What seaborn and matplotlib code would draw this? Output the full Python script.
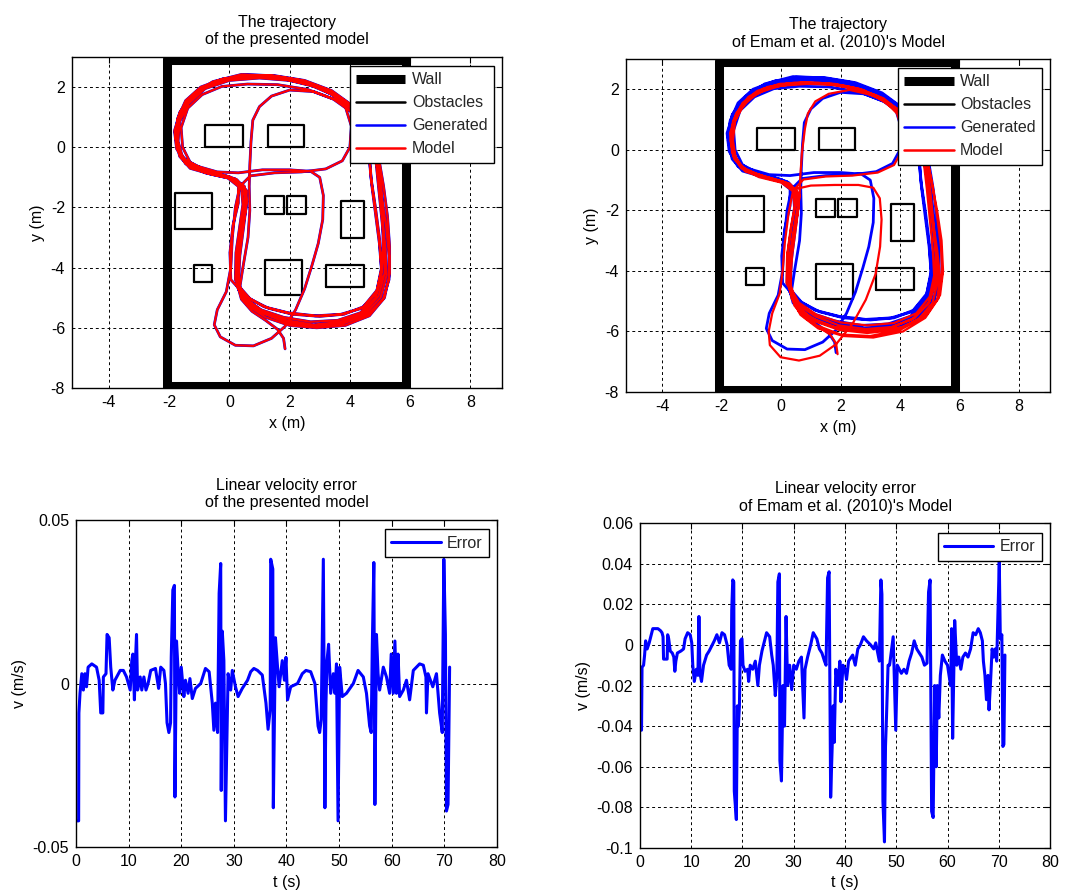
import matplotlib
matplotlib.use('Agg')
import numpy as np
import pandas as pd
import matplotlib.pyplot as plt
import seaborn as sns
from matplotlib.lines import Line2D

# ---- room layout (m) ----
wall_x = [-2.08, 5.86, 5.86, -2.08, -2.08]
wall_y = [2.9, 2.9, -7.93, -7.93, 2.9]
# obstacles as (x0, y0, x1, y1)
obstacles = [(-0.81, 0.0, 0.45, 0.73), (1.28, 0.0, 2.49, 0.73),
             (-1.81, -2.70, -0.58, -1.51), (1.19, -2.21, 1.82, -1.63),
             (1.92, -2.21, 2.54, -1.63), (3.70, -3.01, 4.46, -1.80),
             (-1.18, -4.47, -0.58, -3.90), (1.19, -4.92, 2.42, -3.76),
             (3.20, -4.64, 4.46, -3.90)]

# ---- generated trajectory (lap by lap) ----
gen_path = [
    # start
    (1.85, -6.70), (1.80, -6.35), (1.60, -6.05), (1.20, -5.75), (0.75, -5.45), (0.40, -5.05),
    # lap 1
    (0.25, -4.50), (0.28, -3.70), (0.40, -2.80), (0.52, -2.00), (0.50, -1.40), (0.20, -1.05), (-0.50, -0.85),
    (-1.20, -0.65), (-1.60, -0.30), (-1.75, 0.30), (-1.70, 0.90), (-1.40, 1.50), (-0.90, 1.95), (-0.10, 2.25),
    (0.80, 2.35), (1.80, 2.30), (2.70, 2.10), (3.50, 1.75), (4.20, 1.20), (4.65, 0.55), (4.85, -0.30),
    (4.95, -1.30), (5.05, -2.30), (5.15, -3.30), (5.15, -4.20), (4.95, -4.95), (4.45, -5.50), (3.70, -5.80),
    (2.80, -5.90), (1.90, -5.75), (1.10, -5.45), (0.55, -5.05),
    # lap 2
    (0.20, -4.40), (0.22, -3.50), (0.35, -2.60), (0.45, -1.90), (0.40, -1.35), (0.05, -1.00), (-0.70, -0.80),
    (-1.35, -0.55), (-1.70, -0.10), (-1.80, 0.50), (-1.65, 1.15), (-1.20, 1.75), (-0.55, 2.18), (0.40, 2.42),
    (1.40, 2.38), (2.40, 2.22), (3.30, 1.90), (4.05, 1.40), (4.45, 0.70), (4.62, -0.10), (4.70, -1.00),
    (4.85, -2.00), (4.98, -3.00), (5.05, -4.00), (4.90, -4.75), (4.45, -5.30), (3.80, -5.55), (3.00, -5.62),
    (2.10, -5.55), (1.30, -5.35), (0.70, -5.05), (0.35, -4.65),
    # lap 3 (up the middle)
    (0.45, -4.00), (0.62, -3.00), (0.68, -2.10), (0.66, -1.30), (0.68, -0.60), (0.72, 0.20), (0.78, 0.90),
    (1.00, 1.35), (1.40, 1.70), (2.00, 1.90), (2.80, 1.85), (3.60, 1.55), (4.30, 1.00), (4.70, 0.30),
    (4.90, -0.60), (5.05, -1.60), (5.20, -2.60), (5.30, -3.60), (5.30, -4.40), (5.10, -5.05), (4.60, -5.55),
    (3.80, -5.85), (2.90, -5.95), (2.00, -5.85), (1.20, -5.55), (0.60, -5.15),
    # lap 4 (inner loops)
    (0.30, -4.60), (0.35, -3.60), (0.48, -2.60), (0.58, -1.80), (0.50, -1.30), (0.10, -1.05), (-0.60, -0.90),
    (-1.30, -0.70), (-1.65, -0.30), (-1.78, 0.30), (-1.72, 0.95), (-1.45, 1.55), (-0.95, 2.00), (-0.20, 2.28),
    (0.70, 2.36), (1.70, 2.32), (2.60, 2.15), (3.30, 1.85), (3.85, 1.35), (4.05, 0.70), (4.00, 0.00),
    (3.75, -0.45), (3.20, -0.72), (2.40, -0.82), (1.50, -0.85), (0.70, -0.95), (0.35, -1.30), (0.20, -2.00),
    (0.10, -3.00), (0.05, -4.00), (-0.10, -4.80), (-0.40, -5.40), (-0.50, -5.90), (-0.30, -6.30),
    (0.20, -6.58), (0.80, -6.60), (1.40, -6.35), (1.85, -5.95), (2.20, -5.40), (2.50, -4.70), (2.75, -3.90),
    (2.95, -3.20), (3.10, -2.40), (3.12, -1.60), (3.00, -1.00), (2.70, -0.80), (2.00, -0.75), (1.10, -0.75),
    (0.30, -0.85), (-0.40, -0.82), (-1.10, -0.62), (-1.55, -0.35), (-1.70, 0.20), (-1.65, 0.85),
    (-1.35, 1.45), (-0.80, 1.95), (0.00, 2.22), (1.00, 2.30), (2.00, 2.22), (2.90, 2.00), (3.70, 1.60),
    (4.35, 1.05), (4.75, 0.40), (4.95, -0.40), (5.05, -1.40), (5.10, -2.40), (5.10, -3.40), (5.05, -4.30),
    (4.85, -5.00), (4.35, -5.50), (3.60, -5.75), (2.70, -5.80), (1.80, -5.65), (1.05, -5.40), (0.50, -5.00),
    # lap 5
    (0.22, -4.30), (0.28, -3.40), (0.42, -2.50), (0.55, -1.75), (0.45, -1.25), (0.00, -0.98), (-0.75, -0.78),
    (-1.30, -0.50), (-1.55, 0.00), (-1.60, 0.65), (-1.38, 1.30), (-0.90, 1.75), (-0.25, 2.02), (0.60, 2.10),
    (1.60, 2.08), (2.60, 1.92), (3.45, 1.60), (4.15, 1.10), (4.50, 0.50), (4.65, -0.30), (4.72, -1.20),
    (4.85, -2.20), (4.98, -3.20), (5.05, -4.10), (4.88, -4.85), (4.40, -5.35), (3.70, -5.55), (2.85, -5.60),
    (1.95, -5.50), (1.15, -5.30), (0.55, -4.95),
    # lap 6
    (0.05, -4.40), (0.02, -3.50), (0.12, -2.60), (0.30, -1.85), (0.30, -1.30), (-0.05, -1.02), (-0.80, -0.85),
    (-1.45, -0.55), (-1.75, -0.05), (-1.82, 0.55), (-1.62, 1.20), (-1.15, 1.80), (-0.40, 2.20), (0.50, 2.40),
    (1.50, 2.38), (2.50, 2.22), (3.40, 1.88), (4.20, 1.30), (4.70, 0.55), (4.95, -0.30), (5.12, -1.30),
    (5.25, -2.30), (5.32, -3.30), (5.32, -4.20), (5.15, -5.00), (4.65, -5.60), (3.85, -5.92), (2.90, -6.00),
    (2.00, -5.92), (1.20, -5.65), (0.60, -5.25), (0.30, -4.70),
    # lap 7
    (0.28, -3.80), (0.40, -2.90), (0.55, -2.05), (0.58, -1.45), (0.25, -1.08), (-0.45, -0.88), (-1.15, -0.68),
    (-1.58, -0.35), (-1.76, 0.25), (-1.72, 0.85), (-1.45, 1.45), (-0.95, 1.92), (-0.15, 2.25), (0.75, 2.34),
    (1.75, 2.28), (2.65, 2.08), (3.50, 1.72), (4.25, 1.15), (4.68, 0.50), (4.88, -0.35), (4.98, -1.35),
    (5.08, -2.35), (5.18, -3.35), (5.22, -4.25), (5.02, -5.00), (4.50, -5.55), (3.70, -5.85), (2.75, -5.92),
    (1.85, -5.78), (1.05, -5.48), (0.50, -5.10), (0.25, -4.60),
]

# presented model follows the generated path almost exactly
model_path_presented = gen_path

# Emam et al. (2010) model trajectory
model_path_emam = [
    (1.90, -6.75), (1.85, -6.40), (1.65, -6.10), (1.25, -5.85), (0.80, -5.55), (0.45, -5.15),
    (0.30, -4.50), (0.32, -3.60), (0.45, -2.70), (0.58, -1.90), (0.55, -1.40), (0.20, -1.10), (-0.50, -0.90),
    (-1.15, -0.70), (-1.52, -0.35), (-1.62, 0.30), (-1.55, 0.95), (-1.25, 1.50), (-0.75, 1.90), (0.00, 2.12),
    (0.90, 2.18), (1.90, 2.15), (2.80, 1.95), (3.60, 1.55), (4.25, 1.00), (4.65, 0.35), (4.88, -0.50),
    (5.00, -1.50), (5.12, -2.50), (5.22, -3.50), (5.20, -4.40), (4.95, -5.10), (4.40, -5.60), (3.60, -5.90),
    (2.70, -5.98), (1.80, -5.85), (1.00, -5.55), (0.50, -5.10),
    (0.20, -4.30), (0.22, -3.40), (0.35, -2.50), (0.48, -1.80), (0.45, -1.30), (0.05, -1.05), (-0.70, -0.88),
    (-1.30, -0.62), (-1.60, -0.15), (-1.68, 0.50), (-1.50, 1.15), (-1.05, 1.72), (-0.40, 2.05), (0.50, 2.20),
    (1.50, 2.18), (2.50, 2.02), (3.35, 1.68), (4.05, 1.15), (4.50, 0.50), (4.80, -0.30), (4.95, -1.30),
    (5.10, -2.30), (5.25, -3.30), (5.35, -4.20), (5.25, -4.95), (4.75, -5.55), (4.00, -5.95), (3.00, -6.15),
    (2.00, -6.10), (1.20, -5.80), (0.60, -5.35),
    (0.30, -4.40), (0.38, -3.40), (0.52, -2.40), (0.62, -1.50), (0.65, -0.80), (0.70, -0.10), (0.80, 0.70),
    (0.90, 1.20), (1.15, 1.60), (1.60, 1.85), (2.30, 1.98), (3.10, 1.80), (3.90, 1.35), (4.50, 0.75),
    (4.85, 0.00), (5.05, -1.00), (5.25, -2.00), (5.40, -3.00), (5.45, -4.00), (5.35, -4.80), (4.90, -5.45),
    (4.10, -5.85), (3.10, -6.00), (2.10, -5.95), (1.30, -5.70), (0.65, -5.30),
    (0.28, -4.60), (0.30, -3.60), (0.45, -2.60), (0.60, -1.85), (0.52, -1.35), (0.15, -1.10), (-0.55, -0.92),
    (-1.20, -0.72), (-1.58, -0.30), (-1.70, 0.30), (-1.62, 0.95), (-1.30, 1.55), (-0.80, 1.95), (-0.05, 2.18),
    (0.85, 2.22), (1.80, 2.18), (2.70, 2.00), (3.40, 1.70), (3.90, 1.20), (4.10, 0.55), (4.05, -0.05),
    (3.80, -0.50), (3.25, -0.75), (2.40, -0.85), (1.50, -0.88), (0.75, -0.98), (0.40, -1.35), (0.25, -2.10),
    (0.12, -3.10), (0.05, -4.00), (-0.05, -4.75), (-0.30, -5.40), (-0.42, -6.00), (-0.38, -6.45),
    (-0.02, -6.85), (0.60, -6.96), (1.30, -6.80), (1.85, -6.42), (2.40, -5.75), (2.85, -4.95), (3.18, -4.10),
    (3.33, -3.20), (3.38, -2.30), (3.32, -1.60), (3.10, -1.25), (2.60, -1.16), (1.80, -1.16), (1.00, -1.18),
    (0.45, -1.30), (0.00, -1.05), (-0.70, -0.85), (-1.30, -0.58), (-1.62, -0.10), (-1.68, 0.60),
    (-1.45, 1.25), (-0.95, 1.80), (-0.20, 2.12), (0.70, 2.22), (1.70, 2.18), (2.60, 2.02), (3.45, 1.70),
    (4.15, 1.15), (4.60, 0.45), (4.88, -0.35), (5.02, -1.35), (5.12, -2.35), (5.20, -3.35), (5.20, -4.25),
    (5.00, -5.00), (4.50, -5.55), (3.75, -5.85), (2.85, -5.92), (1.95, -5.80), (1.15, -5.50), (0.55, -5.10),
    (0.18, -4.40), (0.20, -3.50), (0.32, -2.60), (0.45, -1.90), (0.42, -1.38), (0.00, -1.08), (-0.75, -0.90),
    (-1.35, -0.60), (-1.65, -0.10), (-1.72, 0.55), (-1.52, 1.20), (-1.10, 1.75), (-0.45, 2.08), (0.45, 2.22),
    (1.45, 2.20), (2.45, 2.05), (3.30, 1.72), (4.00, 1.20), (4.50, 0.55), (4.78, -0.25), (4.90, -1.25),
    (5.00, -2.25), (5.10, -3.25), (5.15, -4.15), (5.00, -4.85), (4.55, -5.40), (3.80, -5.72), (2.90, -5.80),
    (2.00, -5.70), (1.20, -5.45), (0.60, -5.05),
    (0.25, -4.45), (0.28, -3.55), (0.42, -2.65), (0.55, -1.90), (0.50, -1.35), (0.10, -1.06), (-0.62, -0.86),
    (-1.25, -0.64), (-1.60, -0.22), (-1.68, 0.42), (-1.55, 1.05), (-1.18, 1.62), (-0.60, 2.02), (0.25, 2.20),
    (1.25, 2.22), (2.25, 2.10), (3.20, 1.80), (4.00, 1.30), (4.55, 0.60), (4.90, -0.20), (5.10, -1.20),
    (5.25, -2.20), (5.38, -3.20), (5.42, -4.10), (5.30, -4.90), (4.85, -5.55), (4.10, -6.00), (3.10, -6.20),
    (2.10, -6.15), (1.25, -5.90), (0.65, -5.45), (0.35, -4.90),
    (0.30, -4.00), (0.40, -3.00), (0.55, -2.10), (0.62, -1.50), (0.30, -1.12), (-0.40, -0.92), (-1.10, -0.72),
    (-1.50, -0.38), (-1.65, 0.20), (-1.60, 0.85), (-1.35, 1.42), (-0.88, 1.88), (-0.15, 2.14), (0.75, 2.20),
    (1.75, 2.16), (2.65, 1.98), (3.50, 1.62), (4.20, 1.08), (4.62, 0.40), (4.85, -0.40), (4.98, -1.40),
    (5.10, -2.40), (5.22, -3.40), (5.28, -4.30), (5.10, -5.05), (4.60, -5.62), (3.85, -5.95), (2.90, -6.05),
    (1.95, -5.95), (1.10, -5.65), (0.55, -5.25), (0.30, -4.70),
]

# ---- linear velocity error, presented model ----
t_err_presented = [0.0, 0.5, 0.55, 0.76, 1.1, 1.4, 1.7, 2.0, 2.3, 3.0, 3.9, 4.4, 4.7, 5.1, 5.2, 5.7, 5.9, 6.3,
                   6.6, 7.0, 7.4, 8.4, 9.0, 9.6, 10.3, 10.6, 10.8, 11.1, 11.3, 11.5, 11.7, 12.2, 12.5, 12.9,
                   13.3, 13.7, 14.2, 15.1, 15.7, 16.1, 16.7, 17.0, 17.3, 17.65, 17.97, 18.1, 18.4, 18.7,
                   18.8, 19.1, 19.4, 19.7, 20.0, 20.5, 20.8, 21.3, 21.65, 22.1, 22.7, 23.7, 24.6, 25.3,
                   25.9, 26.2, 26.5, 26.9, 27.2, 27.5, 27.6, 27.8, 28.1, 28.4, 28.9, 29.4, 29.7, 30.3,
                   30.8, 31.6, 32.6, 33.2, 33.8, 34.5, 35.4, 36.1, 36.5, 36.9, 37.0, 37.4, 37.5, 37.9,
                   38.3, 38.6, 39.2, 39.6, 39.9, 40.2, 40.8, 42.1, 43.0, 43.7, 44.6, 45.4, 46.0, 46.3,
                   46.6, 47.0, 47.3, 47.5, 47.7, 48.0, 48.4, 48.9, 49.2, 49.5, 49.8, 50.1, 50.6, 51.4,
                   52.7, 53.6, 54.6, 55.2, 55.8, 56.1, 56.3, 56.6, 56.8, 57.1, 57.4, 57.7, 58.4, 59.0,
                   59.6, 59.9, 60.3, 60.6, 60.9, 61.2, 61.5, 62.2, 62.8, 63.4, 64.1, 65.3, 66.0, 66.5,
                   66.6, 66.9, 67.8, 68.5, 69.1, 69.6, 69.9, 70.2, 70.4, 70.7, 71.0]
v_err_presented = [-0.042, -0.042, -0.009, -0.003, 0.003, -0.002, 0.003, -0.001, 0.005, 0.006, 0.005, 0.001,
                   -0.009, -0.009, 0.002, 0.003, 0.015, 0.014, 0.005, -0.002, 0.001, 0.004, 0.004, 0.002,
                   -0.002, 0.007, 0.009, -0.005, 0.007, 0.015, -0.002, 0.002, -0.002, 0.002, -0.002, 0.000,
                   0.004, 0.0046, -0.0015, 0.005, 0.004, 0.000, -0.012, -0.015, -0.012, 0.008, 0.0286,
                   0.030, -0.0347, 0.013, 0.004, -0.003, 0.005, -0.004, 0.001, -0.003, 0.0015, -0.0046,
                   -0.0015, 0.000, 0.0046, 0.0036, -0.006, -0.0143, -0.006, -0.015, 0.0276, 0.0367,
                   -0.0327, 0.016, 0.007, -0.042, 0.003, -0.002, 0.004, -0.001, -0.004, -0.0015, 0.001,
                   0.0036, 0.0046, 0.004, 0.0026, -0.006, -0.014, -0.008, 0.038, 0.035, -0.038, 0.014,
                   0.005, -0.001, 0.007, 0.001, 0.008, -0.005, -0.001, 0.000, 0.003, 0.004, 0.0036, 0.000,
                   -0.013, -0.015, -0.011, 0.038, -0.038, -0.006, 0.007, 0.012, -0.003, 0.003, -0.003,
                   0.006, -0.042, 0.005, -0.004, -0.003, 0.000, 0.004, 0.002, -0.003, -0.013, -0.015,
                   0.011, 0.037, -0.037, 0.015, 0.003, -0.002, 0.005, 0.002, -0.003, 0.009, -0.003, 0.013,
                   -0.003, 0.009, -0.004, -0.002, 0.001, -0.005, 0.004, 0.006, 0.0056, 0.002, -0.009,
                   0.003, -0.001, 0.003, -0.009, -0.015, 0.038, 0.015, -0.039, -0.037, 0.005]

# ---- linear velocity error, Emam et al. (2010) ----
t_err_emam = [0.0, 0.3, 0.4, 0.7, 0.9, 1.1, 1.4, 1.8, 2.2, 2.5, 3.5, 4.0, 4.3, 4.5, 4.6, 5.3, 5.4, 5.6, 5.9,
              6.3, 6.6, 6.8, 7.0, 7.3, 8.0, 8.5, 8.8, 9.3, 9.8, 10.1, 10.3, 10.6, 11.0, 11.3, 11.5, 11.7,
              12.0, 12.4, 13.0, 13.5, 14.5, 15.0, 15.5, 16.0, 16.5, 17.0, 17.4, 17.8, 17.9, 18.1, 18.3,
              18.4, 18.8, 19.0, 19.2, 19.4, 19.6, 19.9, 20.1, 20.5, 21.0, 21.2, 21.5, 22.0, 22.5, 23.0,
              23.3, 23.8, 24.3, 24.7, 25.3, 25.7, 26.0, 26.4, 26.7, 26.9, 27.2, 27.3, 27.6, 27.9, 28.2,
              28.5, 28.8, 29.2, 29.6, 30.0, 30.5, 31.0, 31.5, 32.0, 32.2, 32.7, 33.3, 33.8, 34.5, 35.0,
              35.5, 36.0, 36.3, 36.6, 36.9, 37.2, 37.5, 37.7, 37.9, 38.2, 38.6, 39.0, 39.2, 39.6, 40.0,
              40.3, 40.7, 41.5, 42.0, 42.5, 43.0, 43.6, 44.2, 45.0, 45.6, 46.0, 46.4, 46.7, 47.0, 47.2,
              47.4, 47.7, 47.9, 48.1, 48.4, 48.7, 49.4, 49.9, 50.2, 50.6, 51.0, 51.5, 52.0, 52.5, 53.0,
              53.5, 54.0, 54.5, 55.0, 55.5, 56.0, 56.3, 56.6, 56.9, 57.2, 57.5, 57.8, 58.0, 58.3, 58.6,
              59.0, 59.5, 60.0, 60.6, 60.8, 61.0, 61.4, 61.8, 62.2, 62.6, 63.0, 63.5, 64.0, 64.5, 65.0,
              65.5, 66.0, 66.4, 66.8, 67.0, 67.3, 67.6, 67.9, 68.1, 68.4, 68.7, 69.0, 69.3, 69.6, 70.1,
              70.3, 70.6, 70.8, 71.0, 71.2]
v_err_emam = [-0.042, -0.042, -0.011, -0.010, -0.005, 0.002, -0.002, 0.001, 0.005, 0.008, 0.008, 0.007,
              0.006, 0.004, -0.007, -0.007, 0.005, 0.003, -0.003, -0.004, -0.006, -0.013, -0.008, -0.004,
              -0.003, -0.002, 0.003, 0.006, 0.005, 0.001, -0.010, -0.018, -0.012, -0.015, 0.014, -0.014,
              -0.018, -0.010, -0.005, -0.003, 0.002, 0.005, 0.001, 0.006, 0.005, 0.000, -0.010, -0.012,
              0.017, 0.032, 0.031, -0.072, -0.086, -0.030, -0.040, -0.030, 0.002, 0.003, -0.010, -0.013,
              -0.012, -0.018, -0.010, -0.012, -0.008, -0.020, -0.010, -0.003, 0.002, 0.006, 0.004, -0.005,
              -0.010, -0.025, -0.015, 0.031, 0.035, -0.057, -0.067, -0.020, -0.040, 0.014, -0.020, -0.010,
              -0.022, -0.010, -0.012, -0.008, -0.006, -0.036, -0.012, -0.006, 0.000, 0.006, 0.003, -0.002,
              -0.004, -0.008, -0.010, 0.033, 0.036, -0.075, -0.050, -0.030, -0.048, -0.012, -0.020, -0.008,
              -0.028, -0.010, -0.012, -0.017, -0.008, -0.005, -0.010, -0.002, 0.000, 0.004, 0.002, 0.000,
              -0.002, 0.001, -0.004, -0.008, 0.032, 0.025, -0.077, -0.097, -0.050, -0.035, -0.010, -0.010,
              0.004, -0.042, -0.010, -0.012, -0.014, -0.012, -0.014, -0.008, -0.004, 0.002, -0.002, -0.004,
              -0.006, -0.010, -0.009, 0.026, 0.032, -0.082, -0.085, -0.020, -0.060, -0.020, -0.036, -0.015,
              -0.005, -0.008, -0.010, -0.020, 0.008, -0.046, 0.012, -0.010, -0.006, -0.012, -0.006, -0.004,
              -0.006, -0.002, 0.006, 0.005, 0.008, 0.006, 0.002, -0.008, -0.015, -0.027, -0.015, -0.032,
              -0.018, -0.002, -0.006, -0.002, -0.008, 0.041, 0.003, 0.005, -0.050, -0.049, -0.005]

BLUE = '#0000ff'
RED = '#ff0000'

sns.set_theme(style='white')
plt.rcParams['font.family'] = ['Liberation Sans', 'DejaVu Sans']
plt.rcParams['axes.unicode_minus'] = False
plt.rcParams['axes.edgecolor'] = 'black'
plt.rcParams['axes.linewidth'] = 1.0

fig = plt.figure(figsize=(10.72, 8.93), dpi=100)
ax_tl = fig.add_axes([0.0672, 0.5655, 0.4011, 0.3707])
ax_tr = fig.add_axes([0.5840, 0.5610, 0.3955, 0.3729])
ax_bl = fig.add_axes([0.0709, 0.0515, 0.3927, 0.3662])
ax_br = fig.add_axes([0.5970, 0.0504, 0.3825, 0.3639])

FS = 11.5


def style_axes(ax):
    ax.grid(True, color='black', linestyle=(0, (3, 3)), linewidth=0.7)
    ax.set_axisbelow(True)
    ax.tick_params(direction='in', top=True, right=True, length=4, width=0.8,
                   labelsize=FS, colors='black', pad=5)
    for s in ax.spines.values():
        s.set_visible(True)
        s.set_color('black')


def add_legend(ax, handles, labels, anchor):
    leg = ax.legend(handles, labels, loc='upper right', bbox_to_anchor=anchor,
                    borderaxespad=0, fontsize=11.5, handlelength=3.1, handletextpad=0.4,
                    labelspacing=0.5, borderpad=0.4, fancybox=False, framealpha=1,
                    edgecolor='black')
    leg.get_frame().set_linewidth(1.0)


def trajectory_panel(ax, gen, model, title):
    g = pd.DataFrame(gen, columns=['x', 'y'])
    m = pd.DataFrame(model, columns=['x', 'y'])
    ax.plot(wall_x, wall_y, color='black', lw=6.5, solid_joinstyle='miter', zorder=3)
    for x0, y0, x1, y1 in obstacles:
        ax.plot([x0, x1, x1, x0, x0], [y0, y0, y1, y1, y0], color='black', lw=1.6, zorder=3)
    sns.lineplot(data=g, x='x', y='y', sort=False, estimator=None, color=BLUE, lw=2.0, ax=ax, zorder=4)
    sns.lineplot(data=m, x='x', y='y', sort=False, estimator=None, color=RED, lw=1.6, ax=ax, zorder=5)
    ax.set_xlim(-5.22, 9.05)
    ax.set_ylim(-8, 3)
    ax.set_xticks([-4, -2, 0, 2, 4, 6, 8])
    ax.set_yticks([-8, -6, -4, -2, 0, 2])
    ax.set_xlabel('x (m)', fontsize=FS, color='black')
    ax.set_ylabel('y (m)', fontsize=FS, color='black')
    ax.set_title(title, fontsize=FS, pad=9, color='black')
    style_axes(ax)
    handles = [Line2D([], [], color='black', lw=6.5, solid_capstyle='butt'),
               Line2D([], [], color='black', lw=1.8),
               Line2D([], [], color=BLUE, lw=1.8),
               Line2D([], [], color=RED, lw=1.8)]
    add_legend(ax, handles, ['Wall', 'Obstacles', 'Generated', 'Model'], (0.981, 0.973))


trajectory_panel(ax_tl, gen_path, model_path_presented, 'The trajectory\nof the presented model')
trajectory_panel(ax_tr, gen_path, model_path_emam, "The trajectory\nof Emam et al. (2010)'s Model")


def error_panel(ax, t, v, title, ylim, yticks, ylabels, anchor):
    d = pd.DataFrame({'t': t, 'v': v})
    sns.lineplot(data=d, x='t', y='v', sort=False, estimator=None, color=BLUE, lw=2.2, ax=ax)
    ax.set_xlim(0, 80)
    ax.set_ylim(*ylim)
    ax.set_xticks(range(0, 81, 10))
    ax.set_yticks(yticks)
    ax.set_yticklabels(ylabels)
    ax.set_xlabel('t (s)', fontsize=FS, color='black')
    ax.set_ylabel('v (m/s)', fontsize=FS, color='black')
    ax.set_title(title, fontsize=FS, pad=9, color='black')
    style_axes(ax)
    add_legend(ax, [Line2D([], [], color=BLUE, lw=2.2)], ['Error'], anchor)


error_panel(ax_bl, t_err_presented, v_err_presented,
            'Linear velocity error\nof the presented model',
            (-0.05, 0.05), [-0.05, 0, 0.05], ['-0.05', '0', '0.05'], (0.981, 0.972))
error_panel(ax_br, t_err_emam, v_err_emam,
            "Linear velocity error\nof Emam et al. (2010)'s Model",
            (-0.1, 0.06), [-0.1, -0.08, -0.06, -0.04, -0.02, 0, 0.02, 0.04, 0.06],
            ['-0.1', '-0.08', '-0.06', '-0.04', '-0.02', '0', '0.02', '0.04', '0.06'], (0.98, 0.969))

fig.savefig('out.png', dpi=100, facecolor='white')
